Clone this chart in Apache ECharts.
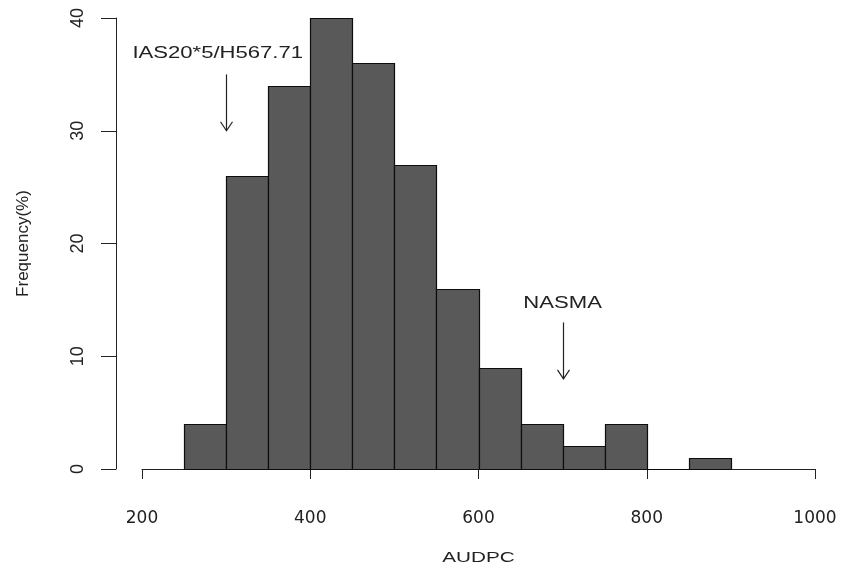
<!DOCTYPE html>
<html>
<head>
<meta charset="utf-8">
<script src="https://cdn.jsdelivr.net/npm/echarts@6/dist/echarts.min.js"></script>
<style>
  html, body { margin: 0; padding: 0; background: #fff; }
  #chart { width: 841px; height: 568px; }
</style>
</head>
<body>
<div id="chart"></div>
<script>
// Histogram of AUDPC: bin starts (width 50) and frequency (%) in each bin
const binStarts = [250, 300, 350, 400, 450, 500, 550, 600, 650, 700, 750, 800, 850];
const binWidth = 50;
const frequency = [4, 26, 34, 40, 36, 27, 16, 9, 4, 2, 4, 0, 1];

// Axis ranges and tick steps
const xRange = [200, 1000];
const xStep = 200;
const yRange = [0, 40];
const yStep = 10;
const xTitle = 'AUDPC';
const yTitle = 'Frequency(%)';

// Arrows pointing at the two named lines
const markerNames = ['IAS20*5/H567.71', 'NASMA'];
const markerX = [300, 700];
const markerArrowTop = [35, 13];
const markerArrowTip = [30, 8];
const markerLabelX = [290, 700];
const markerLabelY = [36.8, 14.7];

const ink = '#222';
const sans = '"Liberation Sans", Arial, sans-serif';
const chart = echarts.init(document.getElementById('chart'));

const histData = binStarts.map((s, i) => [s, s + binWidth, frequency[i]]);
const markerData = markerNames.map((n, i) => [
  markerX[i], markerArrowTop[i], markerArrowTip[i], markerLabelX[i], markerLabelY[i]
]);

function crisp(v) { return Math.round(v) + 0.5; }

chart.setOption({
  animation: false,
  backgroundColor: '#fff',
  grid: { left: 142, right: 26, top: 18, bottom: 99, containLabel: false, outerBoundsMode: 'none' },
  xAxis: {
    type: 'value',
    min: xRange[0], max: xRange[1], interval: xStep,
    offset: 18,
    axisLine: { show: true, lineStyle: { color: ink, width: 1 } },
    axisTick: { show: true, length: 10, lineStyle: { color: ink, width: 1 } },
    axisLabel: {
      color: ink, fontFamily: 'DejaVu Sans', fontSize: 17, margin: 23,
      formatter: v => String(v)
    },
    splitLine: { show: false }
  },
  yAxis: {
    type: 'value',
    min: yRange[0], max: yRange[1], interval: yStep,
    offset: 26,
    name: yTitle,
    nameLocation: 'middle',
    nameRotate: 90,
    nameGap: 84,
    nameTextStyle: { color: ink, fontFamily: sans, fontSize: 17 },
    axisLine: { show: true, lineStyle: { color: ink, width: 1 } },
    axisTick: { show: true, length: 15, lineStyle: { color: ink, width: 1 } },
    axisLabel: {
      rotate: 90, color: ink, margin: 29,
      fontFamily: sans, fontSize: 18,
      formatter: v => String(v)
    },
    splitLine: { show: false }
  },
  series: [
    {
      type: 'custom',
      name: 'Frequency',
      data: histData,
      encode: { x: [0, 1], y: 2 },
      renderItem(params, api) {
        const topLeft = api.coord([api.value(0), api.value(2)]);
        const bottomRight = api.coord([api.value(1), 0]);
        const x0 = crisp(topLeft[0]), x1 = crisp(bottomRight[0]);
        const y0 = crisp(topLeft[1]), y1 = crisp(bottomRight[1]);
        return {
          type: 'rect',
          shape: { x: x0, y: y0, width: x1 - x0, height: y1 - y0 },
          style: { fill: '#595959', stroke: '#0d0d0d', lineWidth: 1.2 }
        };
      }
    },
    {
      type: 'custom',
      name: 'Markers',
      data: markerData,
      encode: { x: [0, 3], y: [1, 2, 4] },
      renderItem(params, api) {
        const top = api.coord([api.value(0), api.value(1)]);
        const tip = api.coord([api.value(0), api.value(2)]);
        const lab = api.coord([api.value(3), api.value(4)]);
        const x = crisp(tip[0]);
        return {
          type: 'group',
          children: [
            {
              type: 'line',
              shape: { x1: x, y1: top[1], x2: x, y2: tip[1] },
              style: { stroke: ink, lineWidth: 1.2 }
            },
            {
              type: 'polyline',
              shape: { points: [[x - 6, tip[1] - 9], [x, tip[1]], [x + 6, tip[1] - 9]] },
              style: { stroke: ink, lineWidth: 1.2, fill: null }
            },
            {
              type: 'text',
              x: lab[0], y: lab[1],
              scaleX: 1.38,
              style: {
                text: markerNames[params.dataIndex],
                fill: ink,
                font: '16px ' + sans,
                align: 'center', verticalAlign: 'middle',
                textAlign: 'center', textVerticalAlign: 'middle'
              }
            }
          ]
        };
      }
    }
  ]
});

// x-axis title, centred under the axis line and widened like the other labels
const xMid = chart.convertToPixel({ xAxisIndex: 0 }, (xRange[0] + xRange[1]) / 2);
chart.setOption({
  graphic: [{
    type: 'text',
    x: xMid, y: 558,
    scaleX: 1.38,
    style: {
      text: xTitle, fill: ink, font: '15px ' + sans,
      align: 'center', verticalAlign: 'middle',
      textAlign: 'center', textVerticalAlign: 'middle'
    }
  }]
});
</script>
</body>
</html>
